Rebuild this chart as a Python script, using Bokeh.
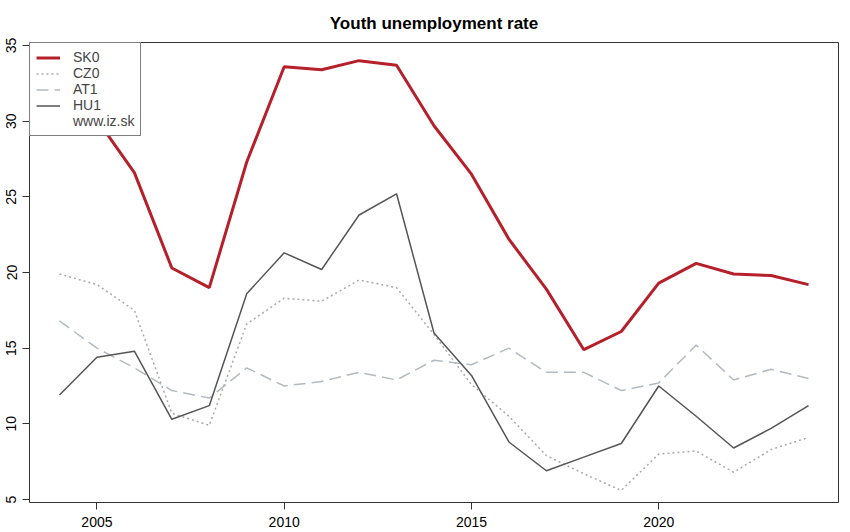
from bokeh.plotting import figure
from bokeh.models import Legend, LegendItem, FixedTicker, Range1d
from bokeh.embed import file_html
from bokeh.resources import INLINE

years = list(range(2004, 2025))
sk0 = [33.1, 30.1, 26.6, 20.3, 19.0, 27.3, 33.6, 33.4, 34.0, 33.7, 29.7,
       26.5, 22.2, 18.9, 14.9, 16.1, 19.3, 20.6, 19.9, 19.8, 19.2]
cz0 = [19.9, 19.2, 17.5, 10.7, 9.9, 16.6, 18.3, 18.1, 19.5, 19.0, 15.9,
       12.6, 10.5, 7.9, 6.7, 5.6, 8.0, 8.2, 6.8, 8.3, 9.1]
at1 = [16.8, 15.0, 13.7, 12.2, 11.7, 13.7, 12.5, 12.8, 13.4, 12.9, 14.2,
       13.9, 15.0, 13.4, 13.4, 12.2, 12.7, 15.2, 12.9, 13.6, 13.0]
hu1 = [11.9, 14.4, 14.8, 10.3, 11.2, 18.6, 21.3, 20.2, 23.8, 25.2, 16.0,
       13.2, 8.8, 6.9, 7.8, 8.7, 12.5, 10.5, 8.4, 9.7, 11.2]
x_ticks = [2005, 2010, 2015, 2020]
y_ticks = [5, 10, 15, 20, 25, 30, 35]

FONT = "Liberation Sans"

p = figure(width=850, height=532, output_backend="svg", toolbar_location=None,
           x_range=Range1d(2003.2, 2024.8), y_range=Range1d(4.8, 35.2),
           min_border_left=29, min_border_right=12, min_border_top=42,
           min_border_bottom=30, title="Youth unemployment rate")

p.title.align = "center"
p.title.text_font = FONT
p.title.text_font_size = "17px"
p.title.text_font_style = "bold"
p.title.text_color = "black"
p.title.standoff = 20

p.xgrid.visible = False
p.ygrid.visible = False
p.outline_line_color = "#333333"
p.outline_line_width = 1
p.background_fill_color = "white"
p.border_fill_color = "white"

for ax in (p.xaxis[0], p.yaxis[0]):
    ax.axis_line_color = None
    ax.major_tick_in = 0
    ax.major_tick_out = 7
    ax.major_tick_line_color = "#333333"
    ax.minor_tick_line_color = None
    ax.major_label_text_font = FONT
    ax.major_label_text_font_size = "14px"
    ax.major_label_text_color = "black"

p.xaxis[0].ticker = FixedTicker(ticks=x_ticks)
p.yaxis[0].ticker = FixedTicker(ticks=y_ticks)
p.yaxis[0].major_label_orientation = "vertical"
p.xaxis[0].major_label_standoff = 7
p.yaxis[0].major_label_standoff = 6

r_cz = p.line(years, cz0, line_color="#aaaaaa", line_width=1.5, line_dash="2 3")
r_at = p.line(years, at1, line_color="#b4bac2", line_width=1.5, line_dash="12 6")
r_hu = p.line(years, hu1, line_color="#555555", line_width=1.5)
r_sk = p.line(years, sk0, line_color="#b5202a", line_width=3)
r_blank = p.line([2010], [20], line_alpha=0)

legend = Legend(items=[
    LegendItem(label="SK0", renderers=[r_sk]),
    LegendItem(label="CZ0", renderers=[r_cz]),
    LegendItem(label="AT1", renderers=[r_at]),
    LegendItem(label="HU1", renderers=[r_hu]),
    LegendItem(label="www.iz.sk", renderers=[r_blank]),
], location="top_left")
legend.margin = 0
legend.padding = 6
legend.spacing = 0
legend.label_height = 15
legend.glyph_height = 15
legend.glyph_width = 24
legend.label_standoff = 13
legend.label_text_font = FONT
legend.label_text_font_size = "14px"
legend.border_line_color = "black"
legend.border_line_width = 1
legend.background_fill_alpha = 1
legend.background_fill_color = "white"
p.add_layout(legend, "center")

open("out.html", "w").write(file_html(p, INLINE))
